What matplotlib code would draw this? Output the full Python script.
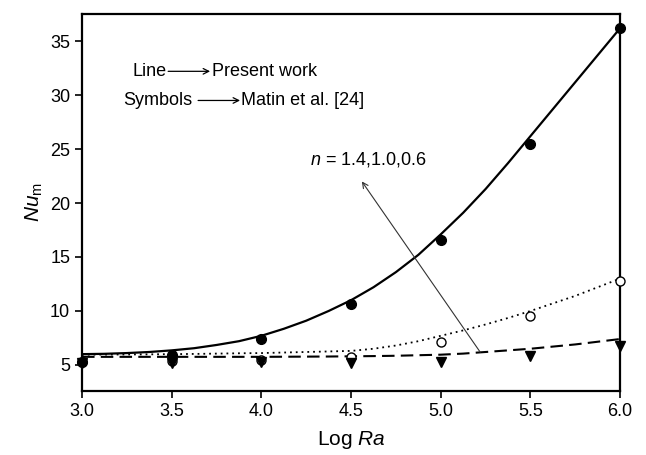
"""Mean Nusselt number vs log Rayleigh number for three power-law indices."""

import matplotlib

matplotlib.use("Agg")
import matplotlib.pyplot as plt
import numpy as np

plt.rcParams["font.family"] = ["Liberation Sans", "DejaVu Sans"]
plt.rcParams["mathtext.fontset"] = "custom"
plt.rcParams["mathtext.rm"] = "Liberation Sans"
plt.rcParams["mathtext.it"] = "Liberation Sans:italic"

# Matin et al. [24] symbols
log_ra = [3.0, 3.5, 4.0, 4.5, 5.0, 5.5, 6.0]
nu_n14 = [5.3, 5.9, 7.4, 10.6, 16.6, 25.5, 36.2]
nu_n10 = [5.3, 5.4, 5.5, 5.7, 7.1, 9.5, 12.8]
nu_n06 = [5.2, 5.2, 5.3, 5.2, 5.3, 5.8, 6.8]

# present work curves
log_ra_line = [3.0, 3.125, 3.25, 3.375, 3.5, 3.625, 3.75, 3.875, 4.0,
               4.125, 4.25, 4.375, 4.5, 4.625, 4.75, 4.875, 5.0,
               5.125, 5.25, 5.375, 5.5, 5.625, 5.75, 5.875, 6.0]
line_n14 = [6.0, 6.03, 6.1, 6.2, 6.35, 6.55, 6.85, 7.2, 7.7,
            8.35, 9.1, 10.0, 11.0, 12.2, 13.6, 15.2, 17.1,
            19.1, 21.3, 23.7, 26.2, 28.7, 31.2, 33.7, 36.2]
line_n10 = [5.95, 5.96, 5.97, 5.98, 6.0, 6.02, 6.05, 6.08, 6.1,
            6.15, 6.2, 6.25, 6.3, 6.5, 6.8, 7.2, 7.7,
            8.2, 8.75, 9.35, 10.0, 10.7, 11.4, 12.2, 13.0]
line_n06 = [5.75, 5.75, 5.75, 5.75, 5.75, 5.75, 5.75, 5.75, 5.75,
            5.76, 5.77, 5.78, 5.8, 5.82, 5.85, 5.9, 5.95,
            6.05, 6.2, 6.35, 6.5, 6.7, 6.9, 7.15, 7.4]

fig = plt.figure(figsize=(6.46, 4.55), dpi=100)
ax = fig.add_axes([0.127, 0.141, 0.833, 0.828])

ax.plot(log_ra_line, line_n14, color="black", lw=1.6, ls="-")
ax.plot(log_ra_line, line_n10, color="black", lw=1.3, ls=(0, (1, 2.2)))
ax.plot(log_ra_line, line_n06, color="black", lw=1.5, ls=(0, (6, 3)))

ax.plot(log_ra, nu_n10, ls="none", marker="o", ms=6.5, mfc="white", mec="black", mew=1.0, clip_on=False, zorder=3)
ax.plot(log_ra, nu_n06, ls="none", marker="v", ms=7, color="black", clip_on=False, zorder=4)
ax.plot(log_ra, nu_n14, ls="none", marker="o", ms=7, color="black", clip_on=False, zorder=5)

# legend written as text with arrows
ax.text(3.284, 32.2, "Line", fontsize=13, va="center", ha="left")
ax.annotate("", xy=(3.714, 32.2), xytext=(3.48, 32.2),
            arrowprops=dict(arrowstyle="->", lw=0.9, color="black", shrinkA=0, shrinkB=0))
ax.text(3.725, 32.2, "Present work", fontsize=13, va="center", ha="left")
ax.text(3.229, 29.5, "Symbols", fontsize=13, va="center", ha="left")
ax.annotate("", xy=(3.881, 29.5), xytext=(3.647, 29.5),
            arrowprops=dict(arrowstyle="->", lw=0.9, color="black", shrinkA=0, shrinkB=0))
ax.text(3.887, 29.5, "Matin et al. [24]", fontsize=13, va="center", ha="left")

ax.annotate("", xy=(4.56, 22.0), xytext=(5.22, 6.18),
            arrowprops=dict(arrowstyle="->", lw=0.8, color="#333333", shrinkA=0, shrinkB=0))
ax.text(4.27, 24.0, r"$n$ = 1.4,1.0,0.6", fontsize=13, va="center", ha="left")

ax.set_xlim(3.0, 6.0)
ax.set_ylim(2.6, 37.5)
ax.set_xticks(np.arange(3.0, 6.01, 0.5))
ax.set_xticklabels([f"{v:.1f}" for v in np.arange(3.0, 6.01, 0.5)])
ax.set_yticks([5, 10, 15, 20, 25, 30, 35])
ax.tick_params(direction="out", length=5, width=1.2, labelsize=13, top=False, right=False)

for spine in ax.spines.values():
    spine.set_linewidth(1.6)

ax.set_xlabel(r"Log $Ra$", fontsize=15, labelpad=7)
ax.set_ylabel(r"$Nu_\mathrm{m}$", fontsize=15, labelpad=4)

fig.savefig("out.png", dpi=100)
